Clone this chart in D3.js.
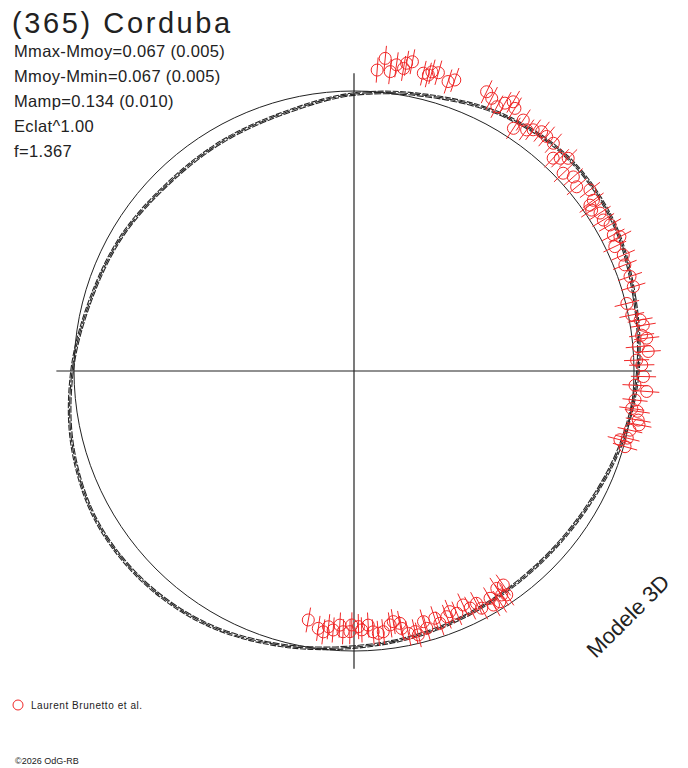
<!DOCTYPE html>
<html>
<head>
<meta charset="utf-8">
<script src="https://cdn.jsdelivr.net/npm/d3@7"></script>
<style>
  body { margin: 0; background: #fff; }
  text { font-family: 'Liberation Sans', Arial, sans-serif; fill: #222; }
</style>
</head>
<body>
<script>
const width = 688;
const height = 768;
const cx = 354;
const cy = 371;

// Model lightcurve: phase (deg, counter-clockwise from the right) and relative radius
const modelPhase = [0, 15, 30, 45, 60, 75, 90, 105, 120, 135, 150, 165,
  180, 195, 210, 225, 240, 255, 270, 285, 300, 315, 330, 345];
const modelFlux = [1.014, 1.036, 1.068, 1.079, 1.057, 1.018, 0.989, 0.955, 0.945, 0.943, 0.959, 0.975,
  1.007, 1.041, 1.064, 1.063, 1.046, 1.014, 0.986, 0.970, 0.957, 0.954, 0.964, 0.989];

// Observations (Laurent Brunetto et al.)
const obsPhase = [
  85.6, 84.3, 83.1, 82.1, 80.7, 80.3, 79.3, 76.9, 75.9, 75.4, 74.2, 72.0, 70.9,
  64.6, 63.2, 61.6, 60.6, 59.4, 58.5, 56.0, 56.7, 54.4, 53.4, 51.9, 50.6, 48.8,
  46.9, 45.9, 44.8, 43.4, 41.5, 39.6, 37.5, 35.5, 34.1, 32.7, 31.2, 29.7, 27.7, 26.8,
  35.1, 25.5, 23.3, 21.4, 18.9, 16.8, 13.9, 11.4, 10.1, 9.0, 7.1, 6.4, 4.9, 3.8, 2.2, 1.2,
  358.9, 357.1, 356.0, 354.1, 352.3, 351.9, 350.2, 349.3, 347.9, 346.2, 345.5, 344.4,
  259.6, 262.1, 263.3, 264.3, 265.4, 266.8, 267.6, 269.1, 269.5, 271.0, 271.7, 273.2,
  274.2, 275.3, 276.4, 278.1, 278.9, 280.3, 280.5, 281.7, 283.2, 283.7, 285.5, 285.8,
  288.1, 288.8, 290.7, 291.7, 293.0, 295.0, 296.1, 297.8, 298.3, 300.9, 300.8, 303.3,
  303.4, 304.9, 304.3, 302.3
];
const obsFlux = [
  1.078, 1.122, 1.077, 1.104, 1.095, 1.115, 1.124, 1.092, 1.090, 1.104, 1.107, 1.087, 1.100,
  1.104, 1.091, 1.073, 1.098, 1.117, 1.100, 1.081, 1.037, 1.059, 1.073, 1.086, 1.084, 1.081,
  1.041, 1.058, 1.078, 1.028, 1.046, 1.032, 1.062, 1.050, 1.025, 1.044, 1.041, 1.053, 1.046, 1.064,
  1.030, 1.032, 1.047, 1.039, 1.042, 1.042, 1.004, 1.012, 1.038, 1.046, 1.035, 1.052, 1.019, 1.053, 1.010, 1.028,
  1.034, 1.005, 1.048, 1.009, 1.001, 1.022, 1.030, 1.036, 1.008, 1.005, 0.981, 1.005,
  0.904, 0.928, 0.938, 0.918, 0.928, 0.909, 0.932, 0.931, 0.907, 0.913, 0.925, 0.909,
  0.934, 0.941, 0.937, 0.916, 0.906, 0.916, 0.935, 0.957, 0.956, 0.970, 0.929, 0.955,
  0.929, 0.952, 0.938, 0.925, 0.940, 0.922, 0.943, 0.938, 0.962, 0.946, 0.973, 0.929,
  0.958, 0.932, 0.968, 0.975
];
const obsErr = 0.045;

const statLines = [
  'Mmax-Mmoy=0.067 (0.005)',
  'Mmoy-Mmin=0.067 (0.005)',
  'Mamp=0.134 (0.010)',
  'Eclat^1.00',
  'f=1.367'
];

const svg = d3.select('body')
  .append('svg')
  .attr('width', width)
  .attr('height', height);

const r = d3.scaleLinear().domain([0, 1]).range([0, 280]);
// d3 radial angles run clockwise from 12 o'clock
const a = d3.scaleLinear().domain([0, 360]).range([Math.PI / 2, Math.PI / 2 - 2 * Math.PI]);
const px = (p, f) => r(f) * Math.sin(a(p));
const py = (p, f) => -r(f) * Math.cos(a(p));

const plot = svg.append('g').attr('transform', `translate(${cx},${cy})`);

// axes through the centre
const axisExt = 1.063;
plot.append('line')
  .attr('x1', -r(axisExt)).attr('x2', r(axisExt)).attr('y1', 0).attr('y2', 0)
  .attr('stroke', '#222').attr('stroke-width', 1.2);
plot.append('line')
  .attr('x1', 0).attr('x2', 0).attr('y1', -r(axisExt)).attr('y2', r(axisExt))
  .attr('stroke', '#222').attr('stroke-width', 1.2);

// reference circle
plot.append('circle')
  .attr('r', r(1))
  .attr('fill', 'none')
  .attr('stroke', '#222')
  .attr('stroke-width', 1);

// model curve, drawn as a braid of close strands
const model = modelPhase.map((p, i) => ({ p, f: modelFlux[i] }));
const strands = [
  { k: -1.3, dash: '7,1.5', off: 0 },
  { k: 0, dash: '10,2', off: 4 },
  { k: 1.3, dash: '6,1.5', off: 2 }
];
strands.forEach((s) => {
  const line = d3.lineRadial()
    .angle((d) => a(d.p))
    .radius((d) => r(d.f) + s.k)
    .curve(d3.curveCardinalClosed);
  plot.append('path')
    .attr('d', line(model))
    .attr('fill', 'none')
    .attr('stroke', '#262626')
    .attr('stroke-width', 1.1)
    .attr('stroke-dasharray', s.dash)
    .attr('stroke-dashoffset', s.off);
});

// observations with radial error bars
const obs = obsPhase.map((p, i) => ({ p, f: obsFlux[i] }));
const red = '#f02828';
const pts = plot.append('g');
pts.selectAll('line.err')
  .data(obs)
  .enter()
  .append('line')
  .attr('class', 'err')
  .attr('x1', (d) => px(d.p, d.f - obsErr))
  .attr('y1', (d) => py(d.p, d.f - obsErr))
  .attr('x2', (d) => px(d.p, d.f + obsErr))
  .attr('y2', (d) => py(d.p, d.f + obsErr))
  .attr('stroke', red)
  .attr('stroke-width', 1);
pts.selectAll('circle.obs')
  .data(obs)
  .enter()
  .append('circle')
  .attr('class', 'obs')
  .attr('cx', (d) => px(d.p, d.f))
  .attr('cy', (d) => py(d.p, d.f))
  .attr('r', 6)
  .attr('fill', 'none')
  .attr('stroke', red)
  .attr('stroke-width', 1);

// title and statistics
svg.append('text')
  .attr('x', 12)
  .attr('y', 33)
  .style('font-size', '29px')
  .style('letter-spacing', '2.6px')
  .text('(365) Corduba');

statLines.forEach((t, i) => {
  svg.append('text')
    .attr('x', 14)
    .attr('y', 57 + i * 25)
    .style('font-size', '16.5px')
    .style('letter-spacing', '0.35px')
    .text(t);
});

// rotated label
svg.append('text')
  .attr('transform', 'translate(628,616) rotate(-45)')
  .attr('text-anchor', 'middle')
  .attr('dy', '0.35em')
  .style('font-size', '22px')
  .text('Modele 3D');

// legend
svg.append('circle')
  .attr('cx', 18)
  .attr('cy', 705)
  .attr('r', 5)
  .attr('fill', 'none')
  .attr('stroke', red);
svg.append('text')
  .attr('x', 31)
  .attr('y', 709)
  .style('font-size', '10px')
  .style('letter-spacing', '0.55px')
  .text('Laurent Brunetto et al.');

svg.append('text')
  .attr('x', 15)
  .attr('y', 764)
  .style('font-size', '9px')
  .text('©2026 OdG-RB');
</script>
</body>
</html>
